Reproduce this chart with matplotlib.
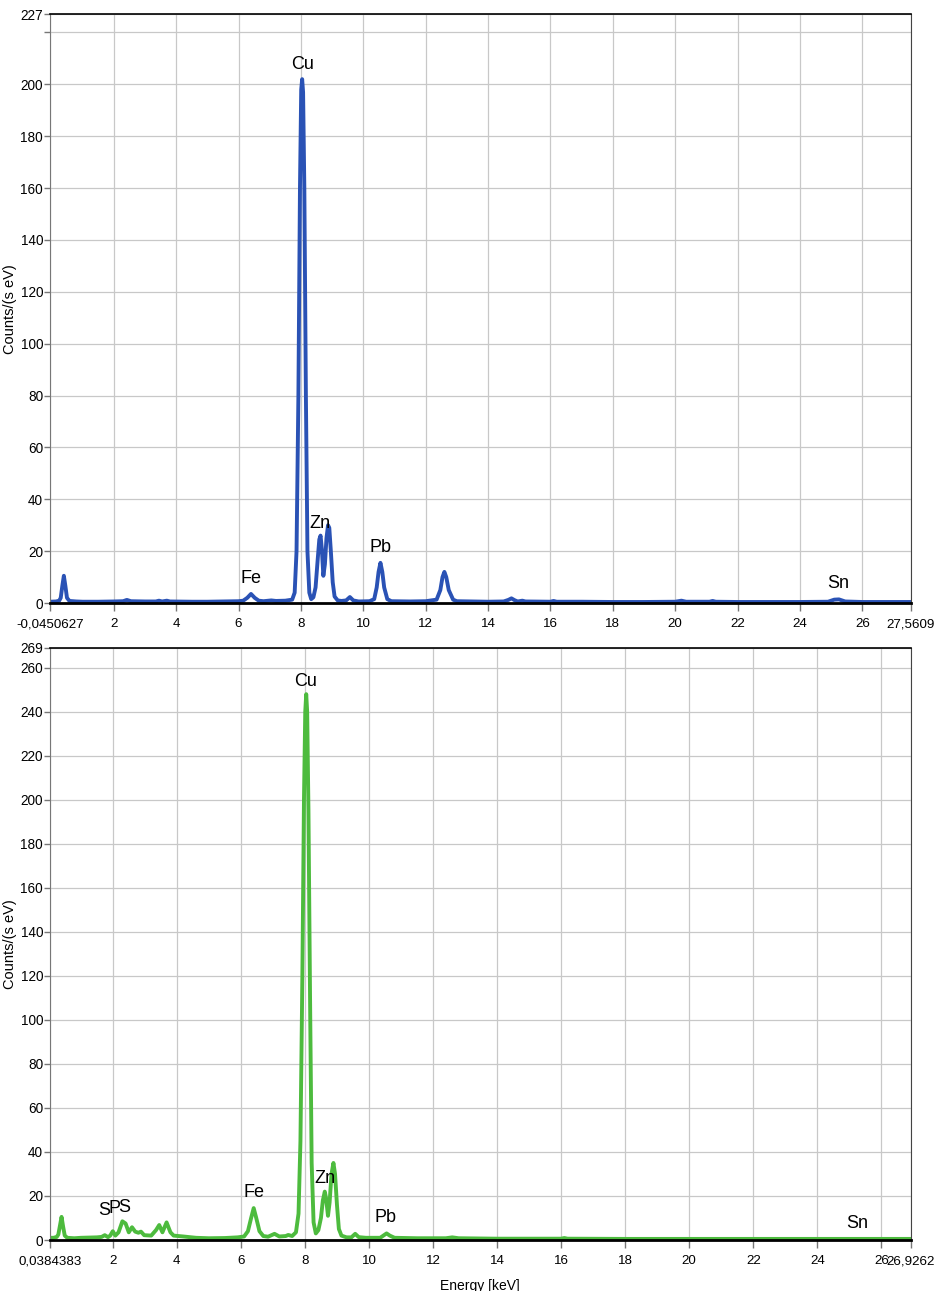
import matplotlib
matplotlib.use("Agg")
import matplotlib.pyplot as plt

# spectrum 1 (blue)
top_energy = [-0.045, 0.15, 0.25, 0.30, 0.35, 0.40, 0.45, 0.50, 0.58, 0.8, 1.0, 1.5, 2.0, 2.3, 2.42,
              2.55, 3.0, 3.35, 3.45, 3.55, 3.7, 3.8, 4.5, 5.0, 5.5, 6.0, 6.15, 6.28, 6.4, 6.52,
              6.65, 6.8, 7.05, 7.2, 7.5, 7.72, 7.80, 7.86, 7.92, 7.97, 8.01, 8.04, 8.07, 8.11,
              8.16, 8.21, 8.27, 8.33, 8.40, 8.47, 8.54, 8.59, 8.63, 8.67, 8.72, 8.77, 8.82,
              8.87, 8.91, 8.96, 9.02, 9.08, 9.18, 9.30, 9.45, 9.57, 9.68, 9.85, 10.2, 10.35,
              10.43, 10.49, 10.55, 10.61, 10.67, 10.77, 10.9, 11.5, 12.0, 12.35, 12.47, 12.54,
              12.6, 12.66, 12.74, 12.88, 13.0, 13.5, 14.0, 14.5, 14.65, 14.75, 14.85, 14.95,
              15.1, 15.2, 16.0, 16.1, 16.2, 17.0, 18.0, 19.0, 20.0, 20.2, 20.35, 21.1, 21.2,
              21.3, 22.0, 23.0, 24.0, 24.9, 25.1, 25.25, 25.45, 26.0, 27.56]
top_counts = [0.5, 0.6, 0.9, 2.0, 6.5, 10.5, 6.5, 2.0, 0.8, 0.6, 0.5, 0.5, 0.6, 0.7, 1.2,
              0.7, 0.6, 0.6, 0.9, 0.6, 0.9, 0.6, 0.5, 0.5, 0.6, 0.7, 0.9, 2.0, 3.5, 2.0,
              0.9, 0.7, 1.0, 0.8, 0.9, 1.3, 4.0, 20, 80, 160, 198, 202, 197, 160,
              80, 20, 4.0, 1.5, 2.2, 6.0, 17, 24.5, 26, 21, 10.5, 15, 25,
              30, 29, 20, 8.0, 2.5, 1.0, 0.8, 1.0, 2.3, 1.0, 0.6, 0.7, 1.5,
              6.0, 12, 15.5, 12, 6.0, 1.5, 0.7, 0.6, 0.7, 1.3, 5.0, 10,
              12, 10, 5.0, 1.3, 0.7, 0.6, 0.5, 0.6, 1.2, 1.8, 1.1, 0.6,
              0.9, 0.6, 0.5, 0.8, 0.5, 0.5, 0.4, 0.4, 0.5, 0.9, 0.5, 0.5, 0.8,
              0.5, 0.4, 0.4, 0.4, 0.5, 1.3, 1.4, 0.6, 0.4, 0.4]

# spectrum 2 (green)
bot_energy = [0.038, 0.15, 0.25, 0.30, 0.35, 0.40, 0.45, 0.50, 0.58, 0.8, 1.0, 1.5, 1.65, 1.75,
              1.85, 1.92, 2.0, 2.08, 2.18, 2.3, 2.4, 2.5, 2.6, 2.7, 2.8, 2.88, 2.98, 3.2, 3.35,
              3.45, 3.55, 3.68, 3.8, 3.9, 4.2, 4.6, 5.0, 5.5, 5.9, 6.1, 6.22, 6.32, 6.4, 6.48,
              6.58, 6.7, 6.85, 7.05, 7.2, 7.4, 7.48, 7.6, 7.72, 7.80, 7.86, 7.92, 7.97, 8.01,
              8.04, 8.07, 8.11, 8.16, 8.21, 8.27, 8.34, 8.42, 8.50, 8.56, 8.62, 8.66, 8.72,
              8.77, 8.83, 8.89, 8.94, 9.0, 9.06, 9.14, 9.3, 9.45, 9.57, 9.68, 9.9, 10.35, 10.45,
              10.55, 10.65, 10.8, 11.5, 12.4, 12.6, 12.8, 14.0, 16.0, 16.1, 16.2, 18.0, 22.0,
              26.93]
bot_counts = [1.0, 1.0, 1.4, 2.5, 6.5, 10.5, 6.0, 2.0, 1.0, 0.8, 1.0, 1.2, 1.4, 2.2,
              1.3, 2.0, 4.0, 2.0, 3.5, 8.5, 7.5, 3.5, 5.8, 3.8, 3.3, 3.8, 2.2, 2.0, 4.5,
              6.8, 3.5, 8.0, 3.5, 2.0, 1.6, 1.0, 0.8, 0.9, 1.2, 1.6, 4.0, 10, 14.5, 10,
              4.0, 1.8, 1.5, 2.8, 1.6, 1.8, 2.3, 1.8, 3.5, 12, 45, 120, 200, 240,
              248, 240, 195, 110, 35, 8.0, 3.0, 4.5, 10, 18, 22, 19, 11,
              17, 30, 35, 30, 16, 5.0, 2.0, 1.2, 1.2, 2.8, 1.3, 1.0, 1.0, 2.0,
              3.0, 2.0, 1.0, 0.8, 0.8, 1.2, 0.8, 0.6, 0.6, 0.9, 0.6, 0.5, 0.5,
              0.5]

top_labels = ["Cu", "Fe", "Zn", "Pb", "Sn"]
top_label_x = [8.05, 6.40, 8.61, 10.54, 25.22]
top_label_y = [206, 7.7, 28.9, 19.7, 5.8]

bot_labels = ["Cu", "Fe", "Zn", "Pb", "Sn", "S", "P", "S"]
bot_label_x = [8.03, 6.41, 8.63, 10.53, 25.24, 1.72, 2.06, 2.36]
bot_label_y = [251.8, 19.5, 25.9, 8.2, 5.5, 11.4, 12.3, 12.7]

top_xlim = (-0.0450627, 27.5609)
bot_xlim = (0.0384383, 26.9262)
top_xlim_txt = ("-0,0450627", "27,5609")
bot_xlim_txt = ("0,0384383", "26,9262")
top_ymax = 227
bot_ymax = 269

FONT = ["Liberation Sans", "DejaVu Sans"]


def setup_axes(ax, xlim, xtxt, ymax, yticks, ylabels):
    ax.set_xlim(*xlim)
    ax.set_ylim(0, ymax)
    xt = [xlim[0]] + list(range(2, 27, 2)) + [xlim[1]]
    xl = [xtxt[0]] + [str(v) for v in range(2, 27, 2)] + [xtxt[1]]
    ax.set_xticks(xt)
    ax.set_xticklabels(xl, family=FONT, fontsize=9.6)
    ax.set_yticks(yticks)
    ax.set_yticklabels(ylabels, family=FONT, fontsize=9.8)
    ax.grid(True, color="#c8c8c8", lw=0.9)
    ax.set_axisbelow(True)
    ax.tick_params(axis="both", direction="out", color="#777777", length=4, width=1)
    ax.tick_params(axis="x", length=6, pad=5)
    ax.tick_params(axis="y", pad=1)
    ax.spines["top"].set_color("black")
    ax.spines["top"].set_linewidth(1.2)
    ax.spines["right"].set_color("#444444")
    ax.spines["left"].set_color("#777777")
    ax.spines["bottom"].set_color("black")
    ax.spines["bottom"].set_linewidth(2)
    ax.set_ylabel("Counts/(s eV)", family=FONT, fontsize=10.5)
    ax.yaxis.set_label_coords(-0.0383, 0.5)


fig = plt.figure(figsize=(9.34, 12.91), dpi=100)
ax1 = fig.add_axes([0.0535, 0.5329, 0.9219, 0.4560])
ax2 = fig.add_axes([0.0535, 0.0395, 0.9219, 0.4586])

t_ticks = list(range(0, 221, 20)) + [top_ymax]
t_labels = [str(v) for v in range(0, 201, 20)] + ["", str(top_ymax)]
setup_axes(ax1, top_xlim, top_xlim_txt, top_ymax, t_ticks, t_labels)
ax1.plot(top_energy, top_counts, color="#2a52b5", lw=2.8, solid_joinstyle="round")
for s, x, y in zip(top_labels, top_label_x, top_label_y):
    ax1.text(x, y, s, ha="center", va="baseline", fontsize=13, family=FONT)

b_ticks = list(range(0, 261, 20)) + [bot_ymax]
b_labels = [str(v) for v in b_ticks]
setup_axes(ax2, bot_xlim, bot_xlim_txt, bot_ymax, b_ticks, b_labels)
ax2.plot(bot_energy, bot_counts, color="#4dbb3e", lw=2.8, solid_joinstyle="round")
for s, x, y in zip(bot_labels, bot_label_x, bot_label_y):
    ax2.text(x, y, s, ha="center", va="baseline", fontsize=13, family=FONT)

fig.text(480 / 934, 0.0095, "Energy [keV]", ha="center", va="top", fontsize=10, family=FONT)

fig.savefig("out.png", dpi=100)
